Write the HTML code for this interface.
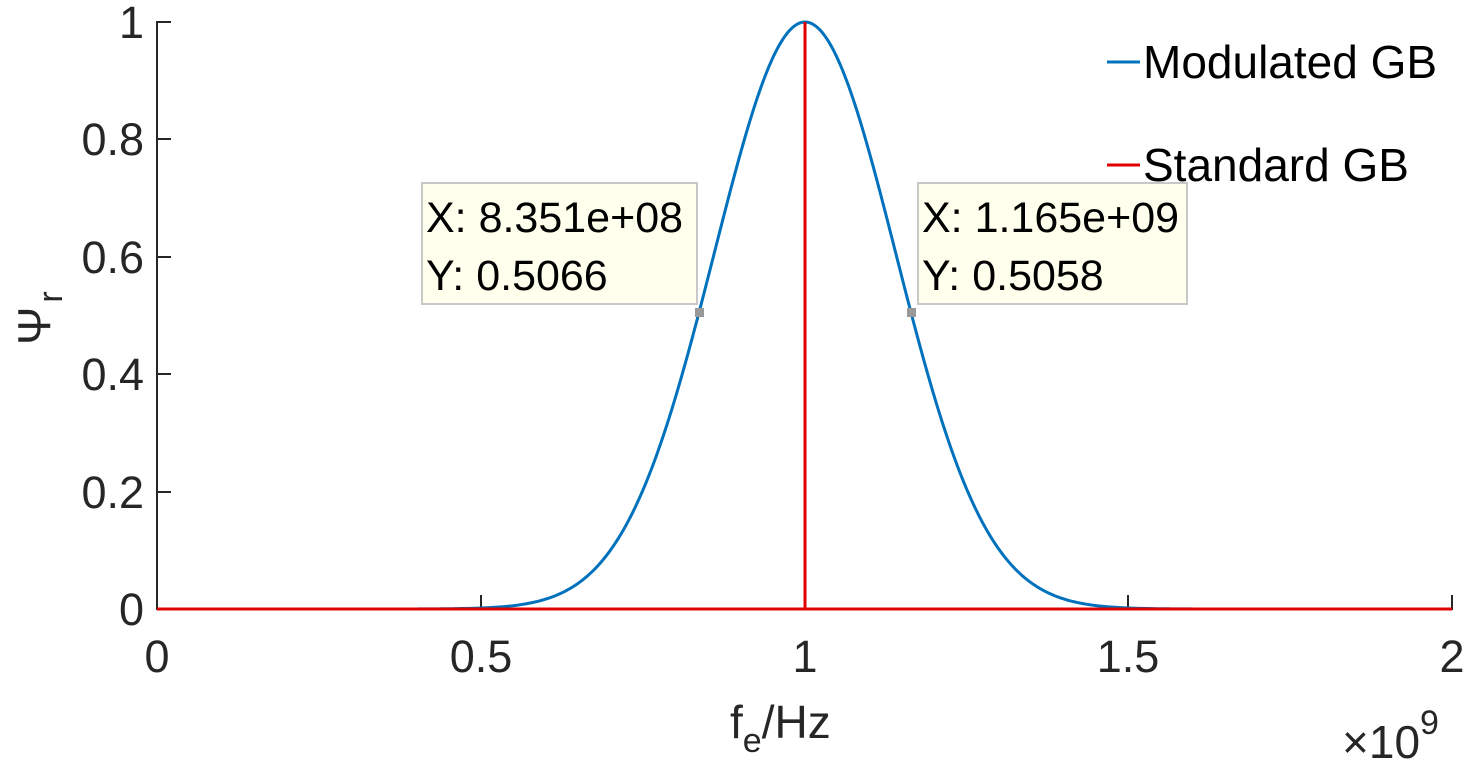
<!DOCTYPE html>
<html><head><style>
body{margin:0;background:#fff}
svg text{font-family:"Liberation Sans",sans-serif;fill:#262626}
</style></head><body>
<svg width="1467" height="768" xmlns="http://www.w3.org/2000/svg">
<g stroke="#262626" stroke-width="2" fill="none">
<line x1="157" y1="21" x2="157" y2="610"/>
<line x1="156" y1="609" x2="1453" y2="609"/>
<line x1="157" y1="22" x2="171" y2="22"/>
<line x1="157" y1="139" x2="171" y2="139"/>
<line x1="157" y1="257" x2="171" y2="257"/>
<line x1="157" y1="374" x2="171" y2="374"/>
<line x1="157" y1="492" x2="171" y2="492"/>
<line x1="481" y1="609" x2="481" y2="595"/>
<line x1="805" y1="609" x2="805" y2="595"/>
<line x1="1128" y1="609" x2="1128" y2="595"/>
<line x1="1452" y1="609" x2="1452" y2="595"/>
</g>
<g font-size="45" text-anchor="end">
<text x="144" y="38">1</text>
<text x="144" y="155">0.8</text>
<text x="144" y="273">0.6</text>
<text x="144" y="390">0.4</text>
<text x="144" y="508">0.2</text>
<text x="144" y="625">0</text>
</g>
<g font-size="45" text-anchor="middle">
<text x="157" y="672">0</text>
<text x="481" y="672">0.5</text>
<text x="805" y="672">1</text>
<text x="1128" y="672">1.5</text>
<text x="1452" y="672">2</text>
</g>
<text x="1342" y="758" font-size="46">×10<tspan font-size="34" dy="-24">9</tspan></text>
<text x="730" y="738" font-size="46">f<tspan font-size="34" dy="14">e</tspan><tspan dy="-14">/Hz</tspan></text>
<g transform="translate(50,345) rotate(-90)"><text font-size="46" font-family="Liberation Serif,serif">Ψ<tspan font-size="34" dy="12" dx="4" font-family="Liberation Sans,sans-serif">r</tspan></text></g>
<path id="g" fill="none" stroke="#0072bd" stroke-width="3"/>
<g stroke="#e00000" stroke-width="3">
<line x1="157" y1="609" x2="1452" y2="609"/>
<line x1="805" y1="609" x2="805" y2="22"/>
</g>
<rect x="695" y="308" width="9" height="9" fill="#999"/>
<rect x="907" y="308" width="9" height="9" fill="#999"/>
<rect x="422" y="183" width="275" height="121" fill="#ffffee" stroke="#c8c8c8" stroke-width="2"/>
<rect x="918" y="183" width="269" height="121" fill="#ffffee" stroke="#c8c8c8" stroke-width="2"/>
<g font-size="43">
<text x="426" y="232" style="fill:#000">X: 8.351e+08</text>
<text x="426" y="290" style="fill:#000">Y: 0.5066</text>
<text x="922" y="232" style="fill:#000">X: 1.165e+09</text>
<text x="922" y="290" style="fill:#000">Y: 0.5058</text>
</g>
<line x1="1107" y1="62" x2="1140" y2="62" stroke="#0072bd" stroke-width="3"/>
<line x1="1107" y1="165" x2="1140" y2="165" stroke="#e00000" stroke-width="3"/>
<g font-size="46">
<text x="1143" y="78" style="fill:#000">Modulated GB</text>
<text x="1143" y="181" style="fill:#000">Standard GB</text>
</g>
</svg>
<script>
var d="",s=90.7;
for(var x=157;x<=1452;x+=2){var y=609-587*Math.exp(-Math.pow(x-805,2)/(2*s*s));d+=(x==157?"M":"L")+x+" "+y.toFixed(2);}
document.getElementById("g").setAttribute("d",d);
</script>
</body></html>
